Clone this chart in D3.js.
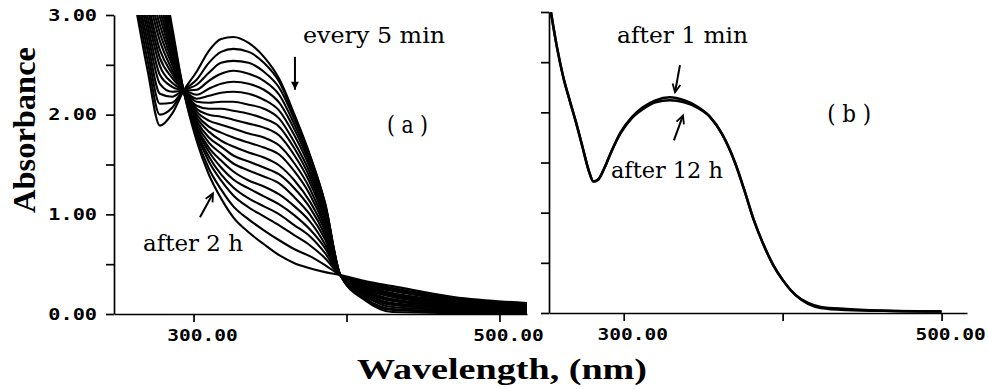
<!DOCTYPE html>
<html>
<head>
<meta charset="utf-8">
<script src="https://cdn.jsdelivr.net/npm/d3@7"></script>
<style>
  body { margin: 0; background: #fff; }
  svg { display: block; }
</style>
</head>
<body>
<div id="chart"></div>
<script>
// panel (a): wavelength grid (nm) shared by all scans, absorbance
const waveA = [262, 270, 278, 286, 293.5, 302, 310, 318, 326, 336, 346, 356, 366, 376, 386, 396, 412, 430, 470, 518];
const scan00 = [3.10, 2.44, 1.89, 2.01, 2.24, 2.43, 2.64, 2.76, 2.78, 2.72, 2.58, 2.36, 2.00, 1.60, 1.11, 0.39, 0.14, 0.02, 0.01, 0.01];
const scan01 = [3.18, 2.54, 2.00, 2.07, 2.24, 2.35, 2.52, 2.63, 2.66, 2.63, 2.52, 2.33, 1.98, 1.59, 1.11, 0.39, 0.15, 0.04, 0.02, 0.02];
const scan02 = [3.26, 2.64, 2.11, 2.12, 2.24, 2.30, 2.42, 2.52, 2.54, 2.52, 2.43, 2.27, 1.95, 1.57, 1.09, 0.39, 0.16, 0.05, 0.03, 0.02];
const scan03 = [3.33, 2.73, 2.21, 2.18, 2.24, 2.25, 2.34, 2.41, 2.44, 2.41, 2.34, 2.20, 1.90, 1.54, 1.08, 0.39, 0.18, 0.07, 0.04, 0.03];
const scan04 = [3.40, 2.82, 2.31, 2.23, 2.24, 2.20, 2.26, 2.31, 2.33, 2.31, 2.25, 2.12, 1.85, 1.51, 1.05, 0.39, 0.19, 0.09, 0.05, 0.03];
const scan05 = [3.47, 2.90, 2.40, 2.28, 2.24, 2.16, 2.19, 2.22, 2.23, 2.21, 2.15, 2.04, 1.79, 1.47, 1.03, 0.39, 0.20, 0.10, 0.06, 0.04];
const scan06 = [3.53, 2.98, 2.49, 2.32, 2.24, 2.13, 2.12, 2.13, 2.13, 2.10, 2.06, 1.96, 1.72, 1.42, 1.00, 0.39, 0.21, 0.11, 0.07, 0.05];
const scan07 = [3.59, 3.06, 2.57, 2.37, 2.24, 2.09, 2.06, 2.06, 2.04, 2.01, 1.96, 1.88, 1.66, 1.37, 0.97, 0.39, 0.22, 0.13, 0.08, 0.05];
const scan08 = [3.65, 3.13, 2.65, 2.41, 2.24, 2.06, 2.00, 1.98, 1.95, 1.91, 1.87, 1.79, 1.59, 1.32, 0.94, 0.39, 0.23, 0.14, 0.08, 0.06];
const scan09 = [3.71, 3.21, 2.74, 2.45, 2.24, 2.03, 1.94, 1.90, 1.86, 1.81, 1.77, 1.69, 1.51, 1.26, 0.90, 0.39, 0.24, 0.15, 0.09, 0.06];
const scan10 = [3.77, 3.29, 2.82, 2.50, 2.24, 2.00, 1.88, 1.82, 1.77, 1.72, 1.67, 1.60, 1.43, 1.20, 0.87, 0.39, 0.25, 0.17, 0.10, 0.07];
const scan11 = [3.83, 3.36, 2.90, 2.54, 2.24, 1.97, 1.83, 1.74, 1.68, 1.62, 1.57, 1.49, 1.34, 1.13, 0.83, 0.39, 0.26, 0.18, 0.11, 0.07];
const scan12 = [3.89, 3.43, 2.98, 2.58, 2.24, 1.94, 1.77, 1.68, 1.59, 1.53, 1.47, 1.40, 1.26, 1.07, 0.79, 0.39, 0.26, 0.19, 0.11, 0.08];
const scan13 = [3.94, 3.50, 3.05, 2.62, 2.24, 1.91, 1.72, 1.61, 1.51, 1.44, 1.38, 1.31, 1.17, 1.00, 0.75, 0.39, 0.27, 0.20, 0.12, 0.08];
const scan14 = [3.99, 3.56, 3.13, 2.66, 2.24, 1.88, 1.67, 1.54, 1.43, 1.34, 1.28, 1.20, 1.08, 0.93, 0.70, 0.39, 0.28, 0.21, 0.13, 0.08];
const scan15 = [4.05, 3.63, 3.20, 2.70, 2.24, 1.86, 1.63, 1.47, 1.35, 1.26, 1.18, 1.10, 0.99, 0.85, 0.66, 0.39, 0.29, 0.23, 0.14, 0.09];
const scan16 = [4.10, 3.70, 3.28, 2.74, 2.24, 1.83, 1.58, 1.40, 1.27, 1.16, 1.08, 1.00, 0.89, 0.78, 0.61, 0.39, 0.30, 0.24, 0.14, 0.09];
const scan17 = [4.16, 3.77, 3.35, 2.78, 2.24, 1.81, 1.53, 1.34, 1.19, 1.07, 0.98, 0.89, 0.79, 0.69, 0.56, 0.39, 0.31, 0.25, 0.15, 0.10];
const scan18 = [4.23, 3.86, 3.45, 2.83, 2.24, 1.77, 1.46, 1.25, 1.08, 0.95, 0.84, 0.74, 0.65, 0.58, 0.49, 0.39, 0.32, 0.26, 0.16, 0.10];
const scan19 = [4.30, 3.95, 3.55, 2.88, 2.24, 1.74, 1.40, 1.16, 0.97, 0.82, 0.70, 0.59, 0.51, 0.46, 0.42, 0.39, 0.33, 0.28, 0.17, 0.11];
const scansA = [scan00, scan01, scan02, scan03, scan04, scan05, scan06, scan07, scan08, scan09,
                scan10, scan11, scan12, scan13, scan14, scan15, scan16, scan17, scan18, scan19];

// panel (b): after 1 min and after 12 h
const waveB = [254, 258, 262, 266, 270, 274, 278, 281, 284, 288, 292, 298, 305, 312, 320, 329, 338, 346, 354, 362, 370, 376, 382, 388, 394, 400, 408, 416, 424, 440, 470, 500];
const after1min = [3.02, 2.65, 2.35, 2.12, 1.90, 1.66, 1.42, 1.31, 1.33, 1.45, 1.60, 1.80, 1.95, 2.05, 2.12, 2.15, 2.12, 2.06, 1.96, 1.78, 1.50, 1.22, 0.92, 0.68, 0.48, 0.33, 0.18, 0.09, 0.05, 0.03, 0.02, 0.015];
const after12h  = [3.02, 2.65, 2.35, 2.12, 1.90, 1.66, 1.42, 1.31, 1.33, 1.45, 1.60, 1.79, 1.94, 2.03, 2.10, 2.12, 2.10, 2.05, 1.96, 1.78, 1.50, 1.22, 0.92, 0.68, 0.48, 0.33, 0.18, 0.10, 0.06, 0.04, 0.02, 0.015];

const yTicks = [0, 0.5, 1, 1.5, 2, 2.5, 3];
const yLabels = ["0.00", "", "1.00", "", "2.00", "", "3.00"];
const xTicks = [300, 400, 500];
const xLabels = ["300.00", "", "500.00"];

const width = 988, height = 389;
const svg = d3.select('#chart').append('svg')
  .attr('width', width)
  .attr('height', height);

const xA = d3.scaleLinear().domain([248, 518]).range([114, 527]);
const yA = d3.scaleLinear().domain([0, 3]).range([314, 15]);
const xB = d3.scaleLinear().domain([253, 516]).range([549, 967]);
const yB = d3.scaleLinear().domain([0, 3]).range([313, 12]);

function drawFrame(x, y, clipId, withYLabels) {
  const x0 = x.range()[0], x1 = x.range()[1];
  const yTop = y.range()[1], yBot = y.range()[0];

  svg.append('clipPath').attr('id', clipId)
    .append('rect')
    .attr('x', x0).attr('y', yTop)
    .attr('width', x1 - x0 + 2).attr('height', yBot - yTop);

  const gy = svg.append('g')
    .attr('transform', 'translate(' + x0 + ',0)')
    .call(d3.axisLeft(y).tickValues(yTicks).tickSize(8).tickSizeOuter(0).tickFormat(''));
  const gx = svg.append('g')
    .attr('transform', 'translate(0,' + yBot + ')')
    .call(d3.axisBottom(x).tickValues(xTicks).tickSize(8).tickSizeOuter(0).tickFormat(''));
  [gy, gx].forEach(g => {
    g.selectAll('path, line').attr('stroke', '#000').attr('stroke-width', 1.7);
  });

  // wide dot-matrix style labels: monospace bold stretched sideways
  svg.selectAll(null)
    .data(xTicks)
    .enter()
    .append('text')
    .text((d, i) => xLabels[i])
    .attr('transform', d => 'translate(' + (x(d) + 9) + ',' + (yBot + 27) + ') scale(1.3,1)')
    .attr('text-anchor', 'middle')
    .attr('font-family', 'DejaVu Sans Mono')
    .attr('font-weight', 'bold')
    .attr('font-size', '15px');

  if (withYLabels) {
    svg.selectAll(null)
      .data(yTicks.filter((d, i) => yLabels[i] !== ''))
      .enter()
      .append('text')
      .text(d => yLabels[yTicks.indexOf(d)])
      .attr('transform', d => 'translate(' + (x0 - 17) + ',' + (y(d) + 5.5) + ') scale(1.35,1)')
      .attr('text-anchor', 'end')
      .attr('font-family', 'DejaVu Sans Mono')
      .attr('font-weight', 'bold')
      .attr('font-size', '15px');
  }
}

drawFrame(xA, yA, 'clipA', true);
drawFrame(xB, yB, 'clipB', false);

// panel (a) scans
const lineA = d3.line()
  .x((d, i) => xA(waveA[i]))
  .y(d => yA(d))
  .curve(d3.curveMonotoneX);

svg.append('g')
  .attr('clip-path', 'url(#clipA)')
  .selectAll('path')
  .data(scansA)
  .enter()
  .append('path')
  .attr('d', lineA)
  .attr('fill', 'none')
  .attr('stroke', '#000')
  .attr('stroke-width', 2.1);

// panel (b) scans
const lineB = d3.line()
  .x((d, i) => xB(waveB[i]))
  .y(d => yB(d))
  .curve(d3.curveMonotoneX);

svg.append('g')
  .attr('clip-path', 'url(#clipB)')
  .selectAll('path')
  .data([after1min, after12h])
  .enter()
  .append('path')
  .attr('d', lineB)
  .attr('fill', 'none')
  .attr('stroke', '#000')
  .attr('stroke-width', 2.5);

// annotations (positions in data units of each panel)
function note(x, y, txt, wl, ab, len, size) {
  svg.append('text')
    .text(txt)
    .attr('x', x(wl))
    .attr('y', y(ab))
    .attr('font-family', 'DejaVu Serif')
    .attr('font-size', (size || 22) + 'px')
    .attr('textLength', len)
    .attr('lengthAdjust', 'spacingAndGlyphs');
}
note(xA, yA, 'every 5 min', 371.6, 2.72, 142);
note(xA, yA, '( a )', 426.5, 1.82, 41, 25);
note(xA, yA, 'after 2 h', 267, 0.63, 100);
note(xB, yB, 'after 1 min', 295.8, 2.69, 131);
note(xB, yB, 'after 12 h', 292, 1.35, 112);
note(xB, yB, '( b )', 428, 1.90, 44, 25);

function arrow(x, y, from, to, filled) {
  const x1 = x(from[0]), y1 = y(from[1]), x2 = x(to[0]), y2 = y(to[1]);
  const a = Math.atan2(y2 - y1, x2 - x1);
  const hl = 9, hw = 0.45;
  const p1 = [x2 - hl * Math.cos(a - hw), y2 - hl * Math.sin(a - hw)];
  const p2 = [x2 - hl * Math.cos(a + hw), y2 - hl * Math.sin(a + hw)];
  svg.append('line')
    .attr('x1', x1).attr('y1', y1).attr('x2', x2).attr('y2', y2)
    .attr('stroke', '#000').attr('stroke-width', 2);
  if (filled) {
    svg.append('path')
      .attr('d', 'M' + p1 + 'L' + [x2, y2] + 'L' + p2 + 'Z')
      .attr('fill', '#000');
  } else {
    svg.append('path')
      .attr('d', 'M' + p1 + 'L' + [x2, y2] + 'L' + p2)
      .attr('fill', 'none').attr('stroke', '#000').attr('stroke-width', 1.8);
  }
}
arrow(xA, yA, [366.3, 2.58], [366.3, 2.25], true);
arrow(xA, yA, [304.2, 0.97], [312.7, 1.21], false);
arrow(xB, yB, [335.4, 2.47], [332.3, 2.20], false);
arrow(xB, yB, [331.6, 1.72], [337.3, 1.97], false);

// axis titles
svg.append('text')
  .text('Absorbance')
  .attr('transform', 'translate(35,130) rotate(-90)')
  .attr('text-anchor', 'middle')
  .attr('font-family', 'Liberation Serif')
  .attr('font-weight', 'bold')
  .attr('font-size', '31px')
  .attr('textLength', 166)
  .attr('lengthAdjust', 'spacingAndGlyphs');

svg.append('text')
  .text('Wavelength, (nm)')
  .attr('x', 502)
  .attr('y', 379)
  .attr('text-anchor', 'middle')
  .attr('font-family', 'Liberation Serif')
  .attr('font-weight', 'bold')
  .attr('font-size', '30px')
  .attr('textLength', 290)
  .attr('lengthAdjust', 'spacingAndGlyphs');
</script>
</body>
</html>
